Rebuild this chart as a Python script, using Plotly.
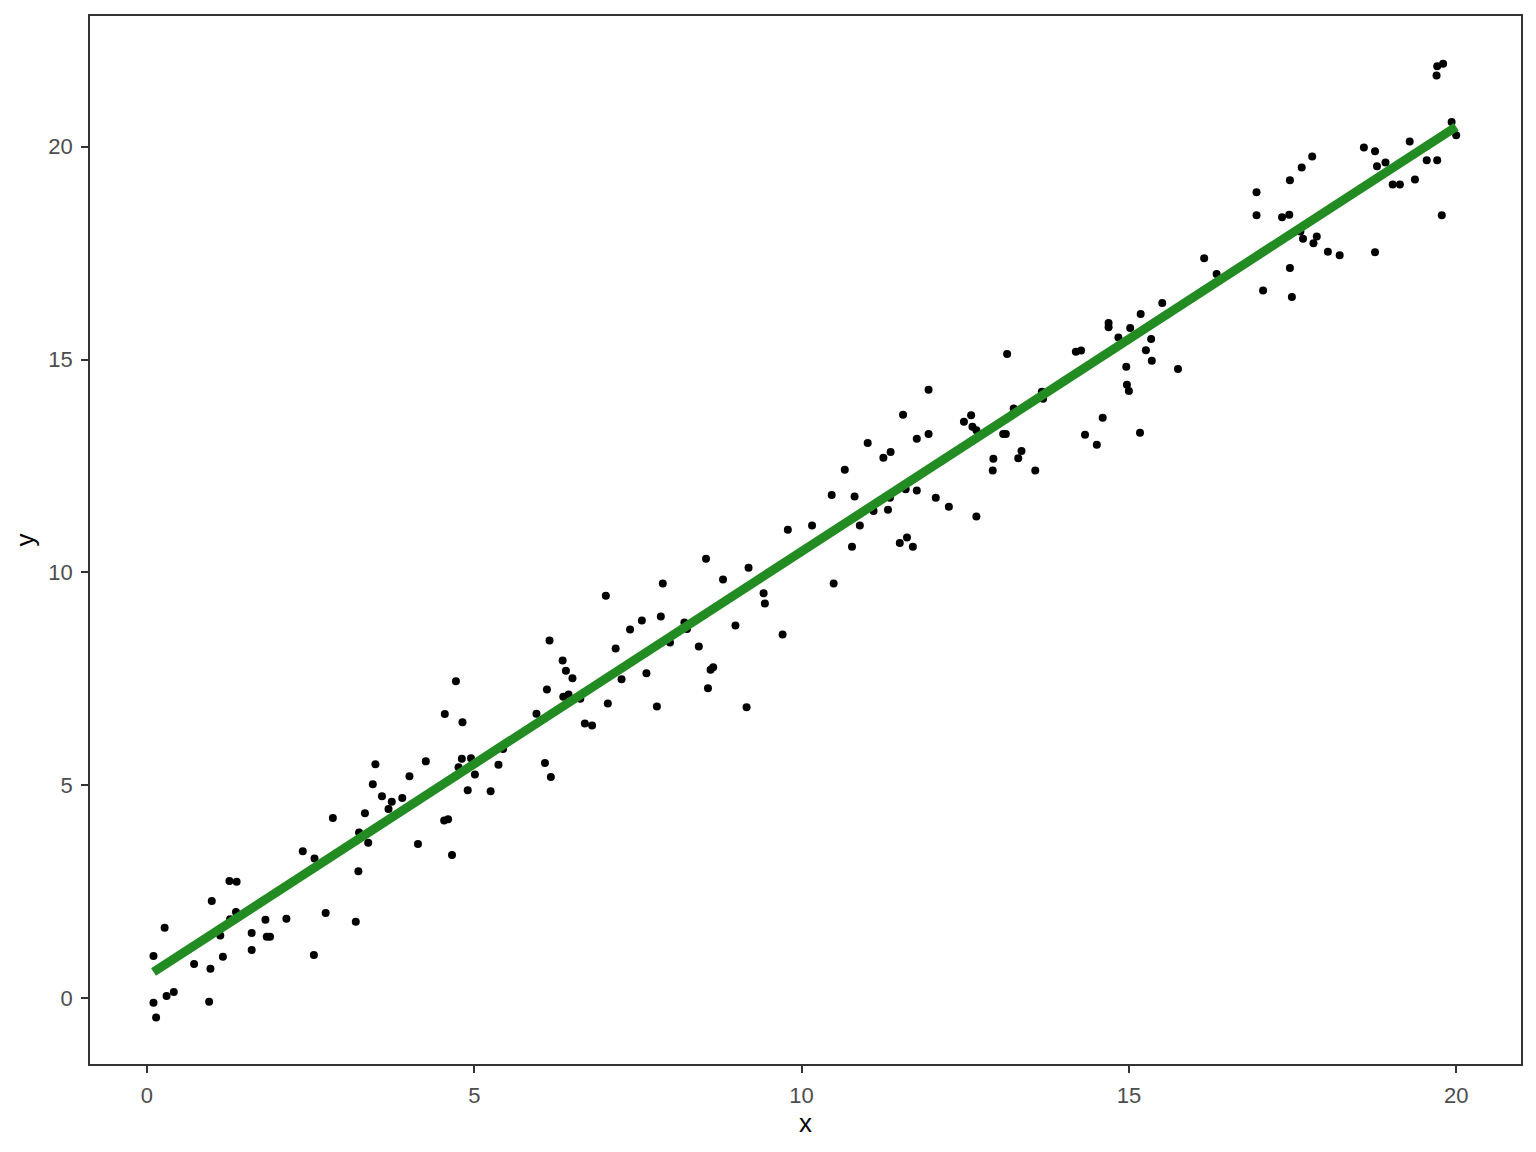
import numpy as np
import plotly.graph_objects as go

x = [0.10, 0.10, 0.14, 0.27, 0.30, 0.41, 0.72, 0.95, 0.97, 0.99, 1.16, 1.12, 1.26, 1.37, 1.36, 1.27,
     1.60, 1.60, 1.81, 1.83, 1.88, 2.13, 2.38, 2.56, 2.55, 2.73, 2.84, 3.19, 3.23, 3.24, 3.38, 3.33,
     3.45, 3.49, 3.59, 3.69, 3.74, 3.90, 4.01, 4.14, 4.26,
     4.66, 4.54, 4.60, 4.72, 4.55, 4.82, 4.81, 4.95, 4.76, 5.01, 4.90, 5.25, 5.37, 5.44, 5.95, 6.08,
     6.17, 6.11, 6.15, 6.35, 6.40, 6.50, 6.36, 6.44, 6.62, 6.69, 6.80, 7.04, 7.01, 7.16, 7.25, 7.38,
     7.56, 7.63, 7.79, 7.85, 7.88, 7.99, 8.21, 8.25, 8.43, 8.54, 8.57, 8.61, 8.65, 8.80, 8.99, 9.16,
     9.19, 9.42, 9.44,
     9.71, 9.79, 10.16, 10.49, 10.46, 10.66, 10.77, 10.81, 10.89, 11.01, 11.10, 11.25, 11.36, 11.32,
     11.35, 11.50, 11.61, 11.55, 11.59, 11.70, 11.76, 11.76, 11.94, 11.94, 12.05, 12.25, 12.48, 12.59,
     12.61, 12.67, 12.67, 12.93, 12.92, 13.08, 13.12, 13.14, 13.24, 13.36, 13.31, 13.57, 13.67, 13.69,
     14.19, 14.27, 14.33,
     14.51, 14.60, 14.69, 14.69, 14.84, 14.96, 14.97, 15.00, 15.02, 15.17, 15.18, 15.26, 15.34, 15.35,
     15.51, 15.75, 16.15, 16.34, 17.05, 17.46, 17.49, 17.66, 17.82, 17.87,
     16.95, 16.95, 17.34, 17.45, 17.46, 17.62, 17.64, 17.80, 18.04, 18.22, 18.59, 18.76, 18.76, 18.79,
     18.92, 19.03, 19.14, 19.29, 19.37, 19.55, 19.71, 19.70, 19.71, 19.80, 19.78, 19.93, 20.00]

y = [0.99, -0.11, -0.46, 1.65, 0.05, 0.14, 0.80, -0.09, 0.69, 2.28, 0.97, 1.47, 2.75, 2.73, 2.02, 1.85,
     1.53, 1.13, 1.84, 1.44, 1.44, 1.86, 3.45, 3.28, 1.01, 2.00, 4.23, 1.79, 2.98, 3.89, 3.65, 4.34,
     5.02, 5.49, 4.74, 4.44, 4.61, 4.70, 5.21, 3.62, 5.56,
     3.36, 4.17, 4.20, 7.44, 6.67, 6.48, 5.62, 5.63, 5.42, 5.25, 4.88, 4.86, 5.48, 5.85, 6.68, 5.52,
     5.19, 7.25, 8.40, 7.93, 7.69, 7.51, 7.08, 7.13, 7.03, 6.45, 6.40, 6.92, 9.45, 8.21, 7.49, 8.66,
     8.87, 7.63, 6.85, 8.96, 9.74, 8.35, 8.82, 8.67, 8.26, 10.32, 7.28, 7.71, 7.77, 9.83, 8.75, 6.83,
     10.11, 9.51, 9.27,
     8.54, 11.00, 11.10, 9.74, 11.82, 12.41, 10.60, 11.78, 11.10, 13.04, 11.44, 12.69, 12.83, 11.47,
     11.75, 10.69, 10.82, 13.70, 11.95, 10.60, 13.14, 11.92, 14.29, 13.25, 11.75, 11.54, 13.54, 13.69,
     13.42, 13.34, 11.31, 12.67, 12.39, 13.25, 13.25, 15.13, 13.85, 12.85, 12.68, 12.39, 14.24, 14.08,
     15.18, 15.21, 13.23,
     13.00, 13.63, 15.86, 15.76, 15.52, 14.83, 14.41, 14.26, 15.74, 13.28, 16.07, 15.22, 15.48, 14.97,
     16.33, 14.78, 17.38, 17.01, 16.62, 17.15, 16.47, 17.84, 17.73, 17.89,
     18.93, 18.39, 18.34, 18.40, 19.21, 18.01, 19.51, 19.77, 17.53, 17.45, 19.98, 19.89, 17.52, 19.54,
     19.63, 19.11, 19.11, 20.12, 19.23, 19.68, 19.68, 21.67, 21.89, 21.95, 18.39, 20.58, 20.27]

# fitted line (lm): value at the smallest and largest x
fit_y_at_ends = [0.61, 20.47]

x_ticks = [0, 5, 10, 15, 20]
y_ticks = [0, 5, 10, 15, 20]

line_x = [min(x), max(x)]
line_y = fit_y_at_ends

FONT = "Liberation Sans, Arial, sans-serif"

fig = go.Figure()
fig.add_trace(go.Scatter(x=x, y=y, mode="markers",
                         marker=dict(color="black", size=8, line=dict(width=0)),
                         showlegend=False, hoverinfo="skip"))
fig.add_trace(go.Scatter(x=line_x, y=line_y, mode="lines",
                         line=dict(color="#228B22", width=9),
                         showlegend=False, hoverinfo="skip"))

axis_common = dict(
    showgrid=False, zeroline=False, showline=True, mirror=True,
    linecolor="#333333", linewidth=1.5,
    ticks="outside", ticklen=7, tickcolor="#333333", tickwidth=1.8,
    tickfont=dict(family=FONT, size=22, color="#4D4D4D"),
    ticklabelstandoff=4,
)

fig.update_xaxes(range=[-0.87, 20.99], tickvals=x_ticks, ticktext=[str(v) for v in x_ticks],
                 title=dict(text="x", font=dict(family=FONT, size=26, color="black"), standoff=6),
                 **axis_common)
fig.update_yaxes(range=[-1.55, 23.07], tickvals=y_ticks, ticktext=[str(v) for v in y_ticks],
                 title=dict(text="y", font=dict(family=FONT, size=26, color="black"), standoff=6),
                 **axis_common)

fig.update_layout(
    width=1528, height=1144,
    margin=dict(l=82, r=15, t=6, b=88),
    paper_bgcolor="white", plot_bgcolor="white",
    font=dict(family=FONT),
)

fig.write_html("out.html")
